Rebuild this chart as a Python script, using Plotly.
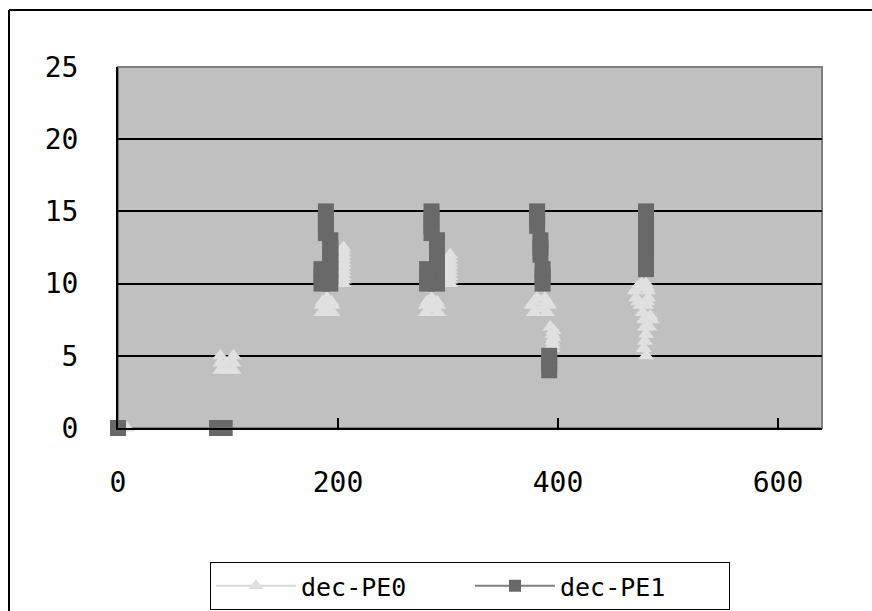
import plotly.graph_objects as go

# ---- data ----
pe0_x = [8,
         93, 105, 93, 105, 99, 93, 105, 99,
         205, 205, 205, 205, 205, 205, 205, 205, 205, 205, 205,
         190, 186, 194, 185, 195, 185, 195, 190,
         302, 302, 302, 302, 302, 302, 302, 302, 302,
         285, 281, 290, 280, 291, 280, 291, 285,
         381, 388, 378, 390, 376, 392, 378, 390, 385,
         393, 396, 395, 396, 395, 395, 395,
         476, 480, 472, 481, 470, 482, 471, 482, 473, 481, 475, 480,
         477, 484, 478, 485, 479, 483, 480, 479, 478, 480]
pe0_y = [0,
         5, 5, 4.5, 4.5, 4.5, 4, 4, 4,
         12.5, 12.25, 12, 11.75, 11.5, 11.25, 11, 10.75, 10.5, 10.25, 10,
         9, 8.75, 8.75, 8.5, 8.5, 8, 8, 8.25,
         12, 11.75, 11.5, 11.25, 11, 10.75, 10.5, 10.25, 10,
         9, 8.75, 8.75, 8.5, 8.5, 8, 8, 8.25,
         9, 9, 8.75, 8.75, 8.5, 8.5, 8, 8, 8.25,
         7, 6.75, 6.5, 6.25, 6, 5.75, 5.5,
         10, 10, 9.75, 9.75, 9.5, 9.5, 9, 9, 8.75, 8.75, 8.5, 8.5,
         8, 7.75, 7.5, 7.5, 7, 7, 6.5, 6, 5.5, 5]

pe1_x = [0, 90, 97,
         189, 189, 189, 189, 193, 193, 193, 193, 193, 193, 193, 185, 185, 185,
         285, 285, 285, 285, 290, 290, 290, 290, 290, 290, 290, 281, 281, 281,
         381, 381, 381, 384, 384, 384, 386, 386, 386, 392, 392, 392,
         480, 480, 480, 480, 480, 480, 480, 480, 480]
pe1_y = [0, 0, 0,
         15, 14.5, 14, 13.5, 13, 12.5, 12, 11.5, 11, 10.5, 10, 11, 10.5, 10,
         15, 14.5, 14, 13.5, 13, 12.5, 12, 11.5, 11, 10.5, 10, 11, 10.5, 10,
         15, 14.5, 14, 13, 12.5, 12, 11, 10.5, 10, 5, 4.5, 4,
         15, 14.5, 14, 13.5, 13, 12.5, 12, 11.5, 11]

series_names = ["dec-PE0", "dec-PE1"]
x_ticks = [0, 200, 400, 600]
y_ticks = [0, 5, 10, 15, 20, 25]

c_pe0 = "#E0E0E0"
c_pe0_line = "#D8D8D8"
c_pe1 = "#696969"
c_pe1_line = "#808080"

FONT = "DejaVu Sans Mono"

fig = go.Figure()
fig.add_trace(go.Scatter(x=pe0_x, y=pe0_y, mode="markers", showlegend=False,
                         marker=dict(symbol="triangle-up", size=14, color=c_pe0, line=dict(width=0)),
                         cliponaxis=False))
fig.add_trace(go.Scatter(x=pe1_x, y=pe1_y, mode="markers", showlegend=False,
                         marker=dict(symbol="square", size=16, color=c_pe1, line=dict(width=0)),
                         cliponaxis=False))
# legend entries
fig.add_trace(go.Scatter(x=[None], y=[None], mode="lines+markers", name=series_names[0],
                         line=dict(color=c_pe0_line, width=2),
                         marker=dict(symbol="triangle-up", size=13, color=c_pe0)))
fig.add_trace(go.Scatter(x=[None], y=[None], mode="lines+markers", name=series_names[1],
                         line=dict(color=c_pe1_line, width=2),
                         marker=dict(symbol="square", size=12, color=c_pe1)))

fig.update_layout(
    width=872, height=611,
    margin=dict(l=118, r=50, t=67, b=183, autoexpand=False),
    paper_bgcolor="white",
    plot_bgcolor="#C0C0C0",
    font=dict(family=FONT, size=26, color="black"),
    showlegend=True,
    legend=dict(orientation="h", x=(470 - 118) / 704, xanchor="center",
                y=(428 - 562) / 361, yanchor="top",
                bgcolor="white", bordercolor="black", borderwidth=1,
                font=dict(family=FONT, size=25, color="black"),
                itemwidth=80, entrywidth=164, entrywidthmode="pixels", tracegroupgap=0),
    xaxis=dict(range=[0, 640], tickvals=x_ticks, ticktext=[str(v) for v in x_ticks],
               showgrid=False, zeroline=False, showline=True, linecolor="black", linewidth=2,
               ticks="inside", ticklen=10, tickwidth=2, tickcolor="black",
               ticklabelstandoff=28, tickfont=dict(family=FONT, size=28)),
    yaxis=dict(range=[0, 25], tickvals=y_ticks, ticktext=[str(v) for v in y_ticks],
               showgrid=True, gridcolor="black", gridwidth=2, zeroline=False,
               showline=True, linecolor="black", linewidth=2, ticks="",
               ticklabelstandoff=32, tickfont=dict(family=FONT, size=28)),
    shapes=[
        dict(type="rect", xref="paper", yref="paper", x0=0, x1=1, y0=0, y1=1,
             line=dict(color="#808080", width=2), layer="below"),
        # outer chart-area border (top and left edges visible in the reference)
        dict(type="line", xref="paper", yref="paper",
             x0=(9 - 118) / 704, x1=(872 - 118) / 704,
             y0=(428 - 10) / 361, y1=(428 - 10) / 361,
             line=dict(color="black", width=2), layer="below"),
        dict(type="line", xref="paper", yref="paper",
             x0=(9 - 118) / 704, x1=(9 - 118) / 704,
             y0=(428 - 611) / 361, y1=(428 - 10) / 361,
             line=dict(color="black", width=2), layer="below"),
    ],
)

fig.write_html("out.html")
